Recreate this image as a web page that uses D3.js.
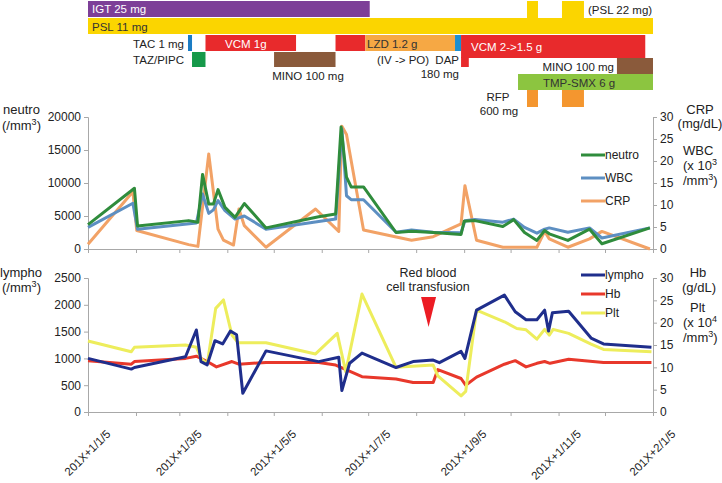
<!DOCTYPE html>
<html>
<head>
<meta charset="utf-8">
<script src="https://cdn.jsdelivr.net/npm/d3@7"></script>
<style>
  body { margin: 0; background: #fff; }
  svg { font-family: "Liberation Sans", Arial, sans-serif; }
  .axis path, .axis line { stroke: #a8a8a8; }
  .axis text { fill: #222; font-size: 12px; }
  .series { fill: none; stroke-width: 3; stroke-linejoin: round; }
</style>
</head>
<body>
<svg id="canvas" width="722" height="483"></svg>
<script>
// days counted from 201X+1/1/5
let neutroDays = [0, 30, 32, 65, 71, 74, 78, 81, 84, 88.5, 95, 101, 115, 149, 160, 163.5, 167, 170, 178, 199, 209, 223, 241, 243, 250, 268, 275, 282, 290, 295, 298, 310, 324, 332, 363]
let neutro = [3700, 9200, 3500, 4300, 4050, 11300, 6800, 6800, 9000, 6300, 4800, 6900, 3200, 4900, 5300, 18500, 10900, 9400, 9400, 2500, 2700, 2500, 2200, 4200, 4300, 3400, 4450, 2500, 1300, 2800, 2300, 1300, 3000, 800, 3200]

let wbcDays = [0, 29, 32, 70, 74, 78, 81, 84, 88.5, 95, 101, 115, 160, 164, 167, 170, 178, 199, 209, 223, 241, 243.5, 250, 268, 275, 282, 290, 295, 298, 310, 324, 332, 363]
let wbc = [4.9, 10.4, 4.5, 5.9, 12.5, 8.1, 8.9, 11.0, 8.7, 6.8, 7.5, 4.5, 6.8, 27.3, 12.1, 11.2, 11.2, 3.8, 4.3, 3.8, 3.7, 6.4, 6.7, 6.1, 6.8, 4.9, 3.6, 4.5, 4.8, 3.8, 4.8, 2.5, 4.8]

let crpDays = [0, 29, 31.5, 65, 71, 78, 84, 87.5, 94, 97.5, 101, 115, 147, 162, 164, 167, 178, 209, 223, 241, 243.5, 251, 268, 290, 295, 298, 310, 324, 332, 363]
let crp = [1.1, 13.0, 4.2, 1.0, 0.6, 21.6, 4.5, 2.0, 0.9, 9.1, 5.3, 0.4, 9.1, 4.0, 27.9, 26.0, 4.3, 2.0, 2.8, 5.7, 14.4, 2.0, 0.4, 0.4, 4.0, 2.3, 0.4, 2.3, 4.0, 0.0]

let lymphoDays = [0, 28, 30, 63, 70, 73, 77, 82, 87, 92, 96, 100, 115, 149, 162, 164, 169, 177, 199, 210, 223, 227, 241, 243.5, 251, 269, 276, 283, 290, 295, 297.5, 300, 310.5, 325, 333, 364]
let lympho = [1000, 800, 830, 1030, 1530, 940, 880, 1330, 1270, 1510, 1440, 350, 1140, 940, 1020, 400, 910, 1100, 830, 940, 970, 920, 1130, 1000, 1900, 2180, 1870, 1720, 1720, 1900, 1510, 1850, 1880, 1380, 1270, 1210]

let hbDays = [0, 28, 30, 63, 70, 77, 83, 93, 97.5, 115, 149, 160, 170, 177, 199, 210, 223, 226, 241, 244, 251, 269, 276, 283, 290, 295, 298.5, 310.5, 333, 364]
let hb = [11.5, 10.7, 11.3, 12.0, 12.5, 11.3, 10.1, 11.3, 10.7, 11.1, 11.1, 10.5, 9.0, 7.9, 7.4, 6.6, 6.6, 9.5, 7.5, 6.0, 7.8, 10.7, 11.5, 10.1, 10.9, 11.3, 10.9, 11.8, 11.1, 11.1]

let pltDays = [0, 28, 30, 63, 70, 73, 77, 82.5, 87.5, 93, 97, 115, 147, 161, 166.5, 177, 199, 223, 226, 241, 244, 251, 269, 277, 283, 290, 295, 298, 300.5, 310.5, 325, 333, 364]
let plt = [15.9, 13.5, 14.5, 15.0, 14.5, 12.0, 10.7, 23.2, 25.1, 17.2, 15.5, 15.5, 13.0, 17.6, 9.0, 26.4, 10.0, 10.5, 8.1, 3.6, 4.6, 22.8, 20.2, 18.7, 18.4, 16.3, 18.5, 17.2, 18.5, 17.6, 15.2, 14.0, 13.5]

let tickLabels = ['201X+1/1/5', '', '201X+1/3/5', '', '201X+1/5/5', '', '201X+1/7/5', '', '201X+1/9/5', '', '201X+1/11/5', '', '201X+2/1/5']

// treatment periods, days from start
let treatDrug = ['IGT', 'PSL22', 'PSL22', 'PSL', 'TAC', 'TAZ', 'VCM1', 'VCM1', 'MINO', 'LZD', 'DAP', 'VCM2', 'VCM2b', 'MINO2', 'TMP', 'RFP', 'RFP']
let treatStart = [0, 283.6, 306.2, 0, 64.6, 67.2, 75.9, 159.9, 120.2, 179.2, 237.1, 241, 241, 341.7, 277.8, 283.6, 306.2]
let treatEnd = [182, 290.7, 320.4, 365, 67.2, 75.9, 134.4, 179.2, 159.9, 237.1, 241, 360, 246, 365, 365, 290.7, 320.4]

let base = new Date(2001, 0, 5)
let day = (d) => base.getTime() + d * 864e5

let canvas = d3.select('#canvas')

let xScale = d3.scaleTime()
    .domain([base, d3.timeDay.offset(base, 365)])
    .range([88, 653])
let tickDates = d3.range(13).map((i) => new Date(2001, i, 5))

// ---- treatment bars
let rows = {
    IGT: [1, 16, '#7d3f98'], PSL22: [1, 17, '#fbd500'], PSL: [18, 16, '#fbd500'],
    TAC: [35, 16, '#1b7cc4'], TAZ: [52, 15, '#16994a'], VCM1: [35, 16, '#e82a2c'],
    MINO: [52, 15, '#8a5a3b'], LZD: [35, 16, '#f6a844'], DAP: [35, 16, '#1b8fd0'],
    VCM2: [35, 23, '#e82a2c'], VCM2b: [57, 10, '#e82a2c'], MINO2: [58, 16, '#8a5a3b'],
    TMP: [74, 16, '#8cc540'], RFP: [90, 17, '#f4962f']
}
canvas.selectAll('rect.treat')
      .data(treatDrug)
      .enter()
      .append('rect')
      .attr('class', 'treat')
      .attr('x', (d, i) => xScale(day(treatStart[i])))
      .attr('width', (d, i) => xScale(day(treatEnd[i])) - xScale(day(treatStart[i])))
      .attr('y', (d) => rows[d][0])
      .attr('height', (d) => rows[d][1])
      .attr('fill', (d) => rows[d][2])

let barText = [
    ['IGT 25 mg', 92, 13, 'start', '#fff'],
    ['(PSL 22 mg)', 588, 14, 'start', '#222'],
    ['PSL 11 mg', 92, 31, 'start', '#333'],
    ['TAC 1 mg', 184, 48, 'end', '#222'],
    ['TAZ/PIPC', 184, 64, 'end', '#222'],
    ['VCM 1g', 225, 48, 'start', '#fff'],
    ['MINO 100 mg', 308, 80, 'middle', '#222'],
    ['LZD 1.2 g', 367, 48, 'start', '#333'],
    ['(IV -> PO)', 377, 64, 'start', '#222'],
    ['DAP', 459, 64, 'end', '#222'],
    ['180 mg', 459, 78, 'end', '#222'],
    ['VCM 2->1.5 g', 471, 51, 'start', '#fff'],
    ['MINO 100 mg', 614, 71, 'end', '#222'],
    ['TMP-SMX 6 g', 543, 87, 'start', '#333'],
    ['RFP', 498, 101, 'middle', '#222'],
    ['600 mg', 499, 115, 'middle', '#222']
]
canvas.selectAll('text.bar')
      .data(barText)
      .enter()
      .append('text')
      .attr('class', 'bar')
      .attr('x', (d) => d[1])
      .attr('y', (d) => d[2])
      .attr('text-anchor', (d) => d[3])
      .attr('fill', (d) => d[4])
      .style('font-size', '11.5px')
      .text((d) => d[0])

// ---- panels
let drawPanel = (y0, y1, leftMax, leftTicks, series, showLabels) => {
    let yLeft = d3.scaleLinear().domain([0, leftMax]).range([y0, y1])
    let yRight = d3.scaleLinear().domain([0, 30]).range([y0, y1])

    canvas.append('g').attr('class', 'axis')
          .attr('transform', 'translate(88,0)')
          .call(d3.axisLeft(yLeft).tickValues(leftTicks).tickSize(4).tickFormat(d3.format('d')))
    canvas.append('g').attr('class', 'axis')
          .attr('transform', 'translate(653,0)')
          .call(d3.axisRight(yRight).tickValues([0, 5, 10, 15, 20, 25, 30]).tickSize(4))
    let xa = canvas.append('g').attr('class', 'axis')
          .attr('transform', 'translate(0,' + y0 + ')')
          .call(d3.axisBottom(xScale).tickValues(tickDates).tickSize(4).tickFormat(''))
    if (showLabels) {
        xa.selectAll('.tick')
          .filter((d, i) => tickLabels[i] !== '')
          .append('text')
          .attr('text-anchor', 'end')
          .attr('transform', 'translate(17,17) rotate(-45)')
          .attr('dy', '0.7em')
          .attr('fill', '#222')
          .style('font-size', '11.5px')
          .text((d) => tickLabels[tickDates.findIndex((t) => +t === +d)])
    }

    series.forEach((s) => {
        let scale = s.axis === 'left' ? yLeft : yRight
        let line = d3.line()
            .x((d, i) => xScale(day(s.days[i])))
            .y((d) => scale(d))
        canvas.append('path')
              .datum(s.values)
              .attr('class', 'series')
              .attr('stroke', s.color)
              .attr('d', line)
    })
}

drawPanel(249, 117, 20000, [0, 5000, 10000, 15000, 20000], [
    { days: crpDays, values: crp, axis: 'right', color: '#f2a266' },
    { days: wbcDays, values: wbc, axis: 'right', color: '#5d8fc2' },
    { days: neutroDays, values: neutro, axis: 'left', color: '#2f8c3c' }
], false)

drawPanel(412, 278, 2500, [0, 500, 1000, 1500, 2000, 2500], [
    { days: hbDays, values: hb, axis: 'right', color: '#e8382b' },
    { days: pltDays, values: plt, axis: 'right', color: '#eded5c' },
    { days: lymphoDays, values: lympho, axis: 'left', color: '#1f2e8c' }
], true)

// legends
let legend = [
    ['neutro', 155, '#2f8c3c'], ['WBC', 178, '#5d8fc2'], ['CRP', 201, '#f2a266'],
    ['lympho', 275, '#1f2e8c'], ['Hb', 294, '#e8382b'], ['Plt', 313, '#eded5c']
]
legend.forEach((l) => {
    canvas.append('line').attr('x1', 581).attr('x2', 605).attr('y1', l[1]).attr('y2', l[1])
          .attr('stroke', l[2]).attr('stroke-width', 3)
    canvas.append('text').attr('x', 605).attr('y', l[1] + 4).style('font-size', '12px')
          .attr('fill', '#222').text(l[0])
})

// axis titles, {up: '3'} is a superscript
let title = (x, y, anchor, parts) => {
    let t = canvas.append('text').attr('x', x).attr('y', y).attr('text-anchor', anchor)
          .style('font-size', '13px').attr('fill', '#222')
    let shift = 0
    parts.forEach((p) => {
        if (typeof p === 'string') {
            t.append('tspan').attr('dy', shift).text(p)
            shift = 0
        } else {
            t.append('tspan').attr('dy', -5).style('font-size', '9px').text(p.up)
            shift = 5
        }
    })
}
title(3, 114, 'start', ['neutro'])
title(2, 130, 'start', ['(/mm', { up: '3' }, ')'])
title(700, 114, 'middle', ['CRP'])
title(700, 128, 'middle', ['(mg/dL)'])
title(683, 155, 'start', ['WBC'])
title(683, 170, 'start', ['(x 10', { up: '3' }])
title(683, 185, 'start', ['/mm', { up: '3' }, ')'])

title(0, 277, 'start', ['lympho'])
title(2, 292, 'start', ['(/mm', { up: '3' }, ')'])
title(698, 277, 'middle', ['Hb'])
title(699, 292, 'middle', ['(g/dL)'])
title(690, 312, 'start', ['Plt'])
title(683, 327, 'start', ['(x 10', { up: '4' }])
title(683, 342, 'start', ['/mm', { up: '3' }, ')'])

// transfusion marker
canvas.append('text').attr('x', 428).attr('y', 277).attr('text-anchor', 'middle')
      .style('font-size', '12.5px').attr('fill', '#222').text('Red blood')
canvas.append('text').attr('x', 428).attr('y', 291).attr('text-anchor', 'middle')
      .style('font-size', '12.5px').attr('fill', '#222').text('cell transfusion')
let tx = xScale(day(220))
canvas.append('path')
      .attr('d', 'M' + (tx - 7.5) + ',297 L' + (tx + 7.5) + ',297 L' + tx + ',327 Z')
      .attr('fill', '#ec1c24')
</script>
</body>
</html>
